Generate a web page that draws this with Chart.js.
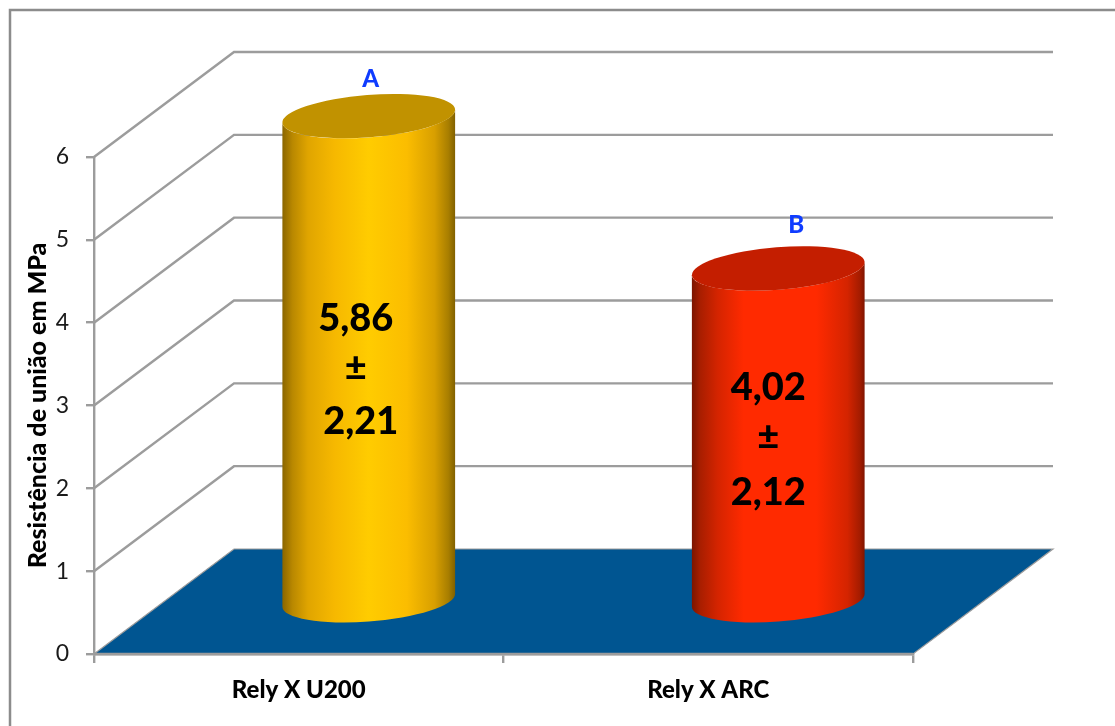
<!DOCTYPE html>
<html>
<head>
<meta charset="utf-8">
<style>
  html, body { margin: 0; padding: 0; background: #fff; }
  canvas { display: block; }
</style>
<script src="https://cdn.jsdelivr.net/npm/chart.js@4/dist/chart.umd.js"></script>
</head>
<body>
<canvas id="chart" width="1115" height="726"></canvas>
<script>
const categories = ["Rely X U200", "Rely X ARC"];
const values = [5.86, 4.02];
const errors = ["2,21", "2,12"];
const means = ["5,86", "4,02"];
const letters = ["A", "B"];

const FONT = "Lato, 'Open Sans', sans-serif";
const GRID = "#9c9c9c";
const DEPTH_X = 140;
const DEPTH_Y = 105;

const looks = [
    {
        cap: "#c19200",
        stops: [[0, "#8a6500"], [0.06, "#b98800"], [0.15, "#e0a500"], [0.3, "#f6b800"],
                [0.5, "#ffcc00"], [0.72, "#fbbd00"], [0.88, "#d89f00"], [0.96, "#a87e00"], [1, "#806000"]],
        letter: [2, -37],
        text: [[-13, 0], [-13, 50], [-8, 103]],
        textTop: 203,
    },
    {
        cap: "#c41e00",
        stops: [[0, "#7a1500"], [0.05, "#a81e00"], [0.15, "#d42400"], [0.3, "#ff2a00"],
                [0.72, "#ff2a00"], [0.9, "#d42400"], [0.97, "#a51c00"], [1, "#7e1400"]],
        letter: [18, -43],
        text: [[-10, 0], [-10, 50], [-10, 105]],
        textTop: 119,
    },
];

const frame3d = {
    id: "frame3d",
    beforeDraw(chart) {
        const c = chart.ctx;
        c.save();
        c.fillStyle = "#fff";
        c.fillRect(0, 0, chart.width, chart.height);
        // outer chart border, runs off the right and bottom of the picture
        c.strokeStyle = "#8c8c8c";
        c.lineWidth = 2.5;
        c.beginPath();
        c.moveTo(10, chart.height + 5);
        c.lineTo(10, 10);
        c.lineTo(chart.width + 5, 10);
        c.stroke();
        c.restore();
    },
    beforeDatasetsDraw(chart) {
        const c = chart.ctx;
        const { left, right } = chart.chartArea;
        const y = chart.scales.y;
        const y0 = y.getPixelForValue(0);

        c.save();
        c.fillStyle = "#005591";
        c.strokeStyle = GRID;
        c.lineWidth = 1.2;
        c.beginPath();
        c.moveTo(left, y0);
        c.lineTo(left + DEPTH_X, y0 - DEPTH_Y);
        c.lineTo(right + DEPTH_X, y0 - DEPTH_Y);
        c.lineTo(right, y0);
        c.closePath();
        c.fill();
        c.stroke();

        c.lineWidth = 2.4;
        y.ticks.forEach((t) => {
            if (t.value === 0) return;
            const py = y.getPixelForValue(t.value);
            c.beginPath();
            c.moveTo(left, py);
            c.lineTo(left + DEPTH_X, py - DEPTH_Y);
            c.lineTo(right + DEPTH_X, py - DEPTH_Y);
            c.stroke();
        });
        c.beginPath();
        c.moveTo(left, y0);
        c.lineTo(right, y0);
        c.stroke();
        c.restore();
    },
    afterDatasetsDraw(chart) {
        const c = chart.ctx;
        const tilt = (-4.5 * Math.PI) / 180;

        chart.getDatasetMeta(0).data.forEach((bar, i) => {
            const look = looks[i];
            const cx = bar.x + DEPTH_X / 2;
            const top = bar.y - DEPTH_Y / 2;
            const base = bar.base - DEPTH_Y / 2;
            const rx = bar.width / 2;
            const ry = rx * 0.245;
            const t0 = Math.atan2(-ry * Math.sin(tilt), rx * Math.cos(tilt));

            const grad = c.createLinearGradient(cx - rx, 0, cx + rx, 0);
            look.stops.forEach((s) => grad.addColorStop(s[0], s[1]));

            c.save();
            c.fillStyle = grad;
            c.beginPath();
            c.ellipse(cx, top, rx, ry, tilt, t0, t0 + Math.PI);
            c.ellipse(cx, base, rx, ry, tilt, t0 + Math.PI, t0, true);
            c.closePath();
            c.fill();

            c.fillStyle = look.cap;
            c.beginPath();
            c.ellipse(cx, top, rx, ry, tilt, 0, Math.PI * 2);
            c.fill();

            c.textAlign = "center";
            c.textBaseline = "middle";
            c.fillStyle = "#0f3cff";
            c.font = "900 24px " + FONT;
            c.fillText(letters[i], cx + look.letter[0], top + look.letter[1]);

            c.fillStyle = "#000";
            c.font = "900 38px " + FONT;
            const lines = [means[i], "±", errors[i]];
            lines.forEach((txt, k) => {
                const off = look.text[k];
                c.fillText(txt, cx + off[0], top + look.textTop + off[1]);
            });
            c.restore();
        });
    },
};

new Chart(document.getElementById("chart"), {
    type: "bar",
    data: {
        labels: categories,
        datasets: [
            {
                label: "Resistência de união em MPa",
                data: values,
                backgroundColor: "transparent",
                borderWidth: 0,
                categoryPercentage: 1,
                barPercentage: 0.423,
            },
        ],
    },
    options: {
        responsive: false,
        animation: false,
        devicePixelRatio: 1,
        layout: { padding: { left: 0, top: 157, right: 202, bottom: 0 } },
        plugins: { legend: { display: false }, tooltip: { enabled: false } },
        scales: {
            x: {
                afterFit: (s) => { s.height = 72; },
                border: { color: GRID, width: 2.4 },
                grid: { drawOnChartArea: false, color: GRID, lineWidth: 2.4, tickLength: 9 },
                ticks: {
                    color: "#000",
                    padding: 13,
                    maxRotation: 0,
                    font: { family: FONT, size: 24, weight: "900" },
                },
            },
            y: {
                min: 0,
                max: 6,
                afterFit: (s) => { s.width = 94; },
                border: { color: GRID, width: 2.4 },
                grid: { drawOnChartArea: false, color: GRID, lineWidth: 2.4, tickLength: 8 },
                ticks: {
                    stepSize: 1,
                    color: "#1a1a1a",
                    padding: 17,
                    font: { family: FONT, size: 23 },
                },
                title: {
                    display: true,
                    text: "Resistência de união em MPa",
                    color: "#000",
                    padding: { top: 23, bottom: 0 },
                    font: { family: FONT, size: 25, weight: "900" },
                },
            },
        },
    },
    plugins: [frame3d],
});
</script>
</body>
</html>
